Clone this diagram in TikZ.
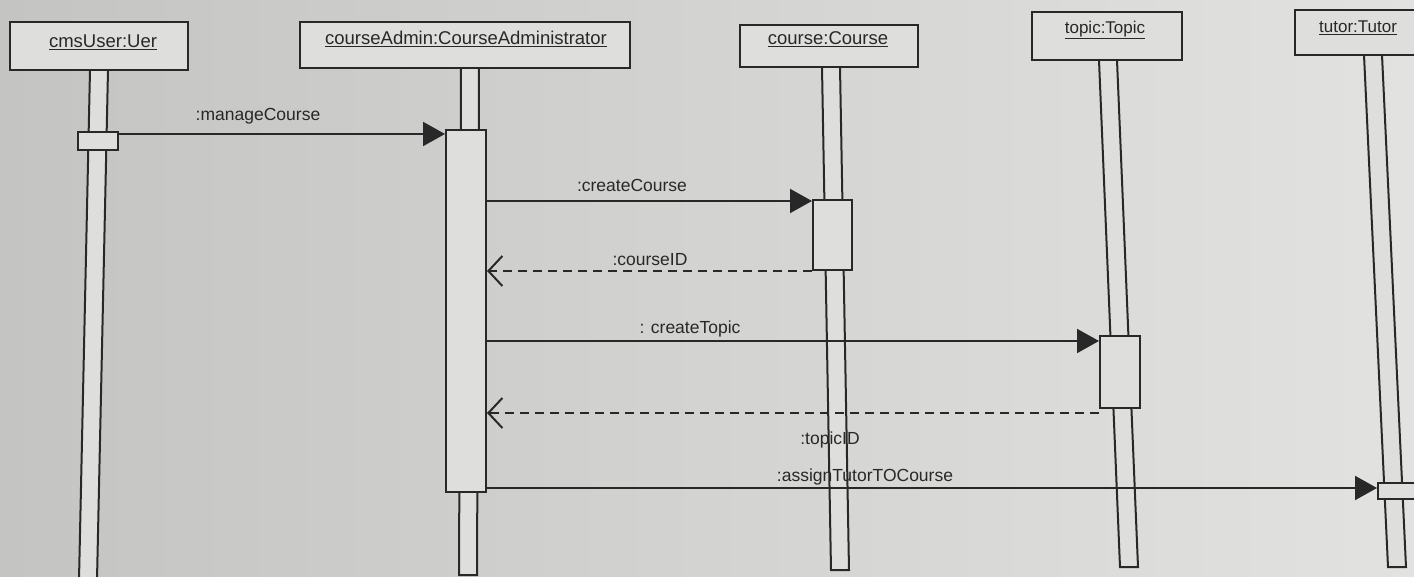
\documentclass[tikz,border=0pt]{standalone}
\usepackage{fontspec}
\setmainfont{Liberation Sans}
\usetikzlibrary{arrows.meta,calc}
\definecolor{ink}{RGB}{40,40,40}
\definecolor{paperL}{RGB}{196,196,194}
\definecolor{paperR}{RGB}{226,226,224}
\definecolor{boxfill}{RGB}{222,222,220}
\tikzset{
  lbl/.style={font=\fontsize{17.5}{20}\selectfont, text=ink, inner sep=1pt},
  headbox/.style={draw=ink, line width=2.2pt, fill=boxfill},
  headtxt/.style={font=\fontsize{18.5}{21}\selectfont, text=ink, inner sep=1pt},
  smalltxt/.style={font=\fontsize{17}{20}\selectfont, text=ink, inner sep=1pt},
  life/.style={draw=ink, line width=2pt, fill=boxfill},
  actbox/.style={draw=ink, line width=2pt, fill=boxfill, rectangle, inner sep=0pt},
  msg/.style={draw=ink, line width=2pt, -{Triangle[length=22pt,width=24pt]}},
  ret/.style={draw=ink, line width=2pt, dash pattern=on 9pt off 6pt, -{Straight Barb[length=14pt,width=30pt,line width=2pt]}}
}
\begin{document}
\begin{tikzpicture}[x=1pt,y=-1pt]
\useasboundingbox (0,0) rectangle (1414,577);
\clip (0,0) rectangle (1414,577);
\shade[left color=paperL, right color=paperR] (0,0) rectangle (1414,577);

% lifelines (slightly tilted as in the photo)
\path[life] (90,70) -- (108,70) -- (97,580) -- (79,580) -- cycle;
\path[life] (461,68) -- (479,68) -- (477,575) -- (459,575) -- cycle;
\path[life] (822,67) -- (840,67) -- (849,570) -- (831,570) -- cycle;
\path[life] (1099,60) -- (1117,60) -- (1138,567) -- (1120,567) -- cycle;
\path[life] (1364,55) -- (1382,55) -- (1406,567) -- (1388,567) -- cycle;

% header boxes
\path[headbox] (10,22) rectangle (188,70);
\node[headtxt] (hu) at (103,42) {\underline{cmsUser:Uer}};
\path[headbox] (300,22) rectangle (630,68);
\node[headtxt] (ha) at (466,39) {\underline{courseAdmin:CourseAdministrator}};
\path[headbox] (740,25) rectangle (918,67);
\node[headtxt] (hc) at (828,39) {\underline{course:Course}};
\path[headbox] (1032,12) rectangle (1182,60);
\node[smalltxt] (ht) at (1105,30) {\underline{topic:Topic}};
\path[headbox] (1295,10) rectangle (1440,55);
\node[smalltxt, anchor=west] (htu) at (1318,28) {\underline{tutor:Tutor}};

% activation boxes
\node[actbox, minimum width=40pt, minimum height=18pt] (ua) at (98,141) {};
\node[actbox, minimum width=40pt, minimum height=362pt] (aa) at (466,311) {};
\node[actbox, minimum width=39pt, minimum height=70pt] (ca) at (832.5,235) {};
\node[actbox, minimum width=40pt, minimum height=72pt] (ta) at (1120,372) {};
\node[actbox, minimum width=44pt, minimum height=16pt, anchor=north west] (tua) at (1377,482) {};

% messages
\coordinate (m1s) at ($(ua.north east)+(0,3)$);
\draw[msg] (m1s) -- (m1s -| aa.west);
\node[lbl] (l1) at (258,116) {:manageCourse};

\coordinate (m2s) at ($(ca.north west)+(0,2)$);
\draw[msg] (m2s -| aa.east) -- (m2s);
\node[lbl] (l2) at (632,185) {:createCourse};

\coordinate (m3s) at (ca.south west);
\draw[ret] (m3s) -- (m3s -| aa.east);
\node[lbl] (l3) at (650,260) {:courseID};

\coordinate (m4s) at ($(ta.north west)+(0,6)$);
\draw[msg] (m4s -| aa.east) -- (m4s);
\node[lbl] (l4) at (690,329) {: createTopic};

\coordinate (m5s) at ($(ta.south west)+(0,4)$);
\draw[ret] (m5s) -- (m5s -| aa.east);
\node[lbl] (l5) at (830,440) {:topicID};

\coordinate (m6s) at ($(tua.north west)+(0,6)$);
\draw[msg] (m6s -| aa.east) -- (m6s);
\node[lbl] (l6) at (865,477) {:assignTutorTOCourse};
\end{tikzpicture}
\end{document}
